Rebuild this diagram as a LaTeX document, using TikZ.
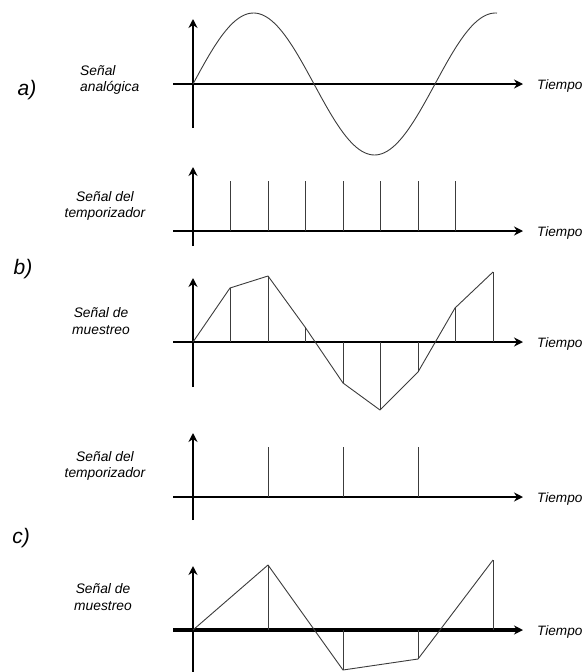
\documentclass[tikz,border=0pt]{standalone}
\usepackage{fontspec}
\setmainfont{Liberation Sans}
\usetikzlibrary{arrows.meta}
\definecolor{SIGgray}{HTML}{3C3C3C}
\tikzset{axisarr/.style={-{Stealth[length=9pt,width=9pt,inset=3pt]},line width=2.4pt},
 sigline/.style={draw=SIGgray,line width=0.9pt,line join=round},
 siglabel/.style={font=\itshape\fontsize{13.8}{16.5}\selectfont,align=center,inner sep=0pt},
 panlabel/.style={font=\itshape\fontsize{21}{24}\selectfont,inner sep=0pt},
 timelabel/.style={font=\itshape\fontsize{13.6}{15}\selectfont,anchor=base west,inner sep=0pt}}

\begin{document}
\begin{tikzpicture}[x=1pt,y=-1pt]
\useasboundingbox (0,0) rectangle (584,672);
% axes of the five plots
\foreach \yb/\yt/\ya/\w [count=\i] in {128/19/84/2.4, 246/167/231/2.4, 387/278/342/2.4,
 520/433/497/2.4, 672/566/630/3.2}{
 \draw[axisarr] (193,\yb) -- (193,\yt);
 \draw[axisarr,line width=\w pt] (173,\ya) -- (523,\ya);
 \node[timelabel] (tiempo\i) at (537,\ya+5) {Tiempo};
}
% a) analog signal
\draw[sigline] plot[domain=193:497,samples=120,smooth] (\x,{84-71*sin((\x-193)*1.4876)});
% b) timer and samples
\foreach \k in {1,...,7}
 \draw[sigline] (193+37.5*\k,231) -- (193+37.5*\k,181);
\draw[sigline] (193,342) foreach \x/\y in {230/288,268/276,305/327,343/383,380/410,418/372,455/308,493/272}{ -- (\x,\y)};
\foreach \x/\y in {230/288,268/276,305/327,343/383,380/410,418/372,455/308,493/272}
 \draw[sigline] (\x,342) -- (\x,\y);
% c) slower timer and samples
\foreach \x in {268,343,418}
 \draw[sigline] (\x,497) -- (\x,447);
\draw[sigline] (193,630) -- (268,565) -- (343,670) -- (418,659) -- (493,560);
\foreach \x/\y in {268/565,343/670,418/659,493/560}
 \draw[sigline] (\x,630) -- (\x,\y);
% labels
\node[panlabel] (pa) at (27,90) {a)};
\node[panlabel] (pb) at (23,269) {b)};
\node[panlabel] (pc) at (21,538) {c)};
\node[siglabel,align=left,anchor=west] (la) at (80,80) {Señal\\analógica};
\node[siglabel] (lb1) at (105,206) {Señal del\\temporizador};
\node[siglabel] (lb2) at (101,321) {Señal de\\muestreo};
\node[siglabel] (lc1) at (105,466) {Señal del\\temporizador};
\node[siglabel] (lc2) at (103,597) {Señal de\\muestreo};
\end{tikzpicture}
\end{document}
